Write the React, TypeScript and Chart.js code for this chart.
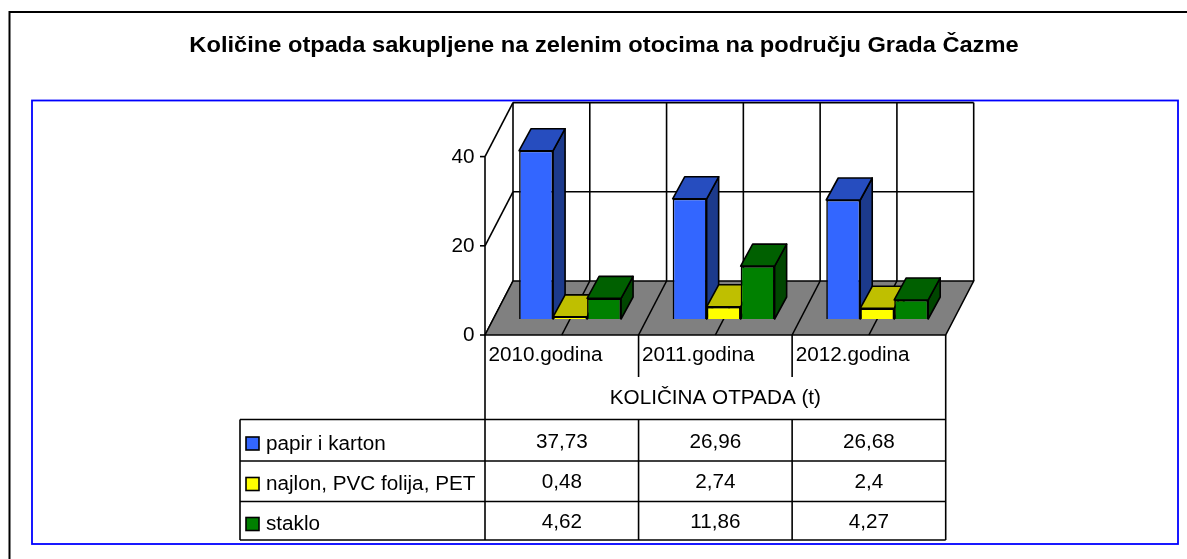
import React, { useEffect, useRef } from "react";
import { Chart, registerables } from "chart.js";

Chart.register(...registerables);

const title = "Količine otpada sakupljene na zelenim otocima na području Grada Čazme";
const categories = ["2010.godina", "2011.godina", "2012.godina"];
const tableHeader = "KOLIČINA OTPADA (t)";
const seriesNames = ["papir i karton", "najlon, PVC folija, PET", "staklo"];
const papir = [37.73, 26.96, 26.68];
const najlon = [0.48, 2.74, 2.4];
const staklo = [4.62, 11.86, 4.27];
const yTicks = [0, 20, 40];

const seriesValues = [papir, najlon, staklo];
const frontColors = ["#3366FF", "#FFFF00", "#008000"];
const topColors = ["#264DBF", "#BFBF00", "#006000"];
const sideColors = ["#1C3A8C", "#8C8C00", "#004600"];

const FONT = '"Liberation Sans", Arial, sans-serif';
const STRETCH = 1.035;
const TEXT_SIZE = 20;
const LINE = 1.6;

function text(
  ctx: CanvasRenderingContext2D,
  s: string,
  x: number,
  y: number,
  size: number,
  align: CanvasTextAlign = "left",
  bold = false,
  sx = STRETCH
) {
  ctx.save();
  ctx.font = `${bold ? "bold " : ""}${size}px ${FONT}`;
  ctx.fillStyle = "#000";
  ctx.textAlign = align;
  ctx.textBaseline = "alphabetic";
  ctx.translate(x, y);
  ctx.scale(sx, 1);
  ctx.fillText(s, 0, 0);
  ctx.restore();
}

function line(ctx: CanvasRenderingContext2D, x1: number, y1: number, x2: number, y2: number) {
  ctx.beginPath();
  ctx.moveTo(x1, y1);
  ctx.lineTo(x2, y2);
  ctx.stroke();
}

function poly(ctx: CanvasRenderingContext2D, pts: number[][], fill: string) {
  ctx.beginPath();
  pts.forEach((p, i) => (i ? ctx.lineTo(p[0], p[1]) : ctx.moveTo(p[0], p[1])));
  ctx.closePath();
  ctx.fillStyle = fill;
  ctx.fill();
  ctx.stroke();
}

const scene3d = {
  id: "scene3d",
  beforeDraw(chart: any) {
    const ctx: CanvasRenderingContext2D = chart.ctx;
    ctx.save();
    ctx.fillStyle = "#fff";
    ctx.fillRect(0, 0, chart.width, chart.height);

    // outer frame
    ctx.strokeStyle = "#000";
    ctx.lineWidth = 2;
    ctx.beginPath();
    ctx.moveTo(1187, 12);
    ctx.lineTo(9.5, 12);
    ctx.lineTo(9.5, 559);
    ctx.lineJoin = "miter";
    ctx.stroke();
    // plot frame
    ctx.strokeStyle = "#0000FF";
    ctx.lineWidth = 1.8;
    ctx.strokeRect(32, 100.5, 1146, 443.5);

    text(ctx, title, 604, 52, 22, "center", true, 1.075);
    ctx.restore();
  },
  beforeDatasetsDraw(chart: any) {
    const ctx: CanvasRenderingContext2D = chart.ctx;
    const xs = chart.scales.x;
    const ys = chart.scales.y;
    // front of the floor lies in front of the bar plane, its back behind it
    const frontDx = -8.3, frontDy = 16;
    const backDx = 19.7, backDy = -38;
    const step = (xs.right - xs.left) / 6;
    const y0 = ys.getPixelForValue(0);
    const topV = yTicks[yTicks.length - 1];

    ctx.save();
    ctx.strokeStyle = "#000";
    ctx.lineWidth = LINE;
    ctx.lineJoin = "round";

    // walls
    for (let i = 0; i <= 6; i++) {
      const x = xs.left + i * step + backDx;
      line(ctx, x, y0 + backDy, x, ys.getPixelForValue(topV) + backDy);
    }
    yTicks.forEach((t) => {
      const p = ys.getPixelForValue(t);
      line(ctx, xs.left + frontDx, p + frontDy, xs.left + backDx, p + backDy);
      if (t > 0) line(ctx, xs.left + backDx, p + backDy, xs.right + backDx, p + backDy);
      line(ctx, xs.left + frontDx - 5, p + frontDy, xs.left + frontDx, p + frontDy);
      text(ctx, String(t), 474.5, p + frontDy + 6.2, TEXT_SIZE, "right");
    });
    line(ctx, xs.left + frontDx, ys.getPixelForValue(topV) + frontDy, xs.left + frontDx, y0 + frontDy);

    // floor
    poly(
      ctx,
      [
        [xs.left + frontDx, y0 + frontDy],
        [xs.right + frontDx, y0 + frontDy],
        [xs.right + backDx, y0 + backDy],
        [xs.left + backDx, y0 + backDy],
      ],
      "#808080"
    );
    for (let i = 1; i < 6; i++) {
      const x = xs.left + i * step;
      line(ctx, x + frontDx, y0 + frontDy, x + backDx, y0 + backDy);
    }

    // bars, painted left to right
    const bdx = 12, bdy = 22;
    categories.forEach((_, c) => {
      seriesValues.forEach((_s, d) => {
        const el = chart.getDatasetMeta(d).data[c];
        const { x, y, base, width } = el.getProps(["x", "y", "base", "width"], true);
        const r = x + width / 2, l = x - width / 2;
        poly(ctx, [[r, y], [r + bdx, y - bdy], [r + bdx, base - bdy], [r, base]], sideColors[d]);
        poly(ctx, [[l, y], [r, y], [r + bdx, y - bdy], [l + bdx, y - bdy]], topColors[d]);
        el.draw(ctx);
      });
    });
    ctx.restore();
    return false;
  },
  afterDraw(chart: any) {
    const ctx: CanvasRenderingContext2D = chart.ctx;
    const xs = chart.scales.x;
    const ys = chart.scales.y;
    const left = xs.left - 8.3;
    const right = xs.right - 8.3;
    const colW = (right - left) / categories.length;
    const legendLeft = 240;
    const y0 = ys.getPixelForValue(0) + 16;
    const rowHead = 419.5;
    const rows = [461, 501.5, 540];

    ctx.save();
    ctx.strokeStyle = "#000";
    ctx.lineWidth = LINE;
    line(ctx, left, y0, left, rows[2]);
    line(ctx, right, y0, right, rows[2]);
    for (let i = 1; i < categories.length; i++) {
      line(ctx, left + i * colW, y0, left + i * colW, 377);
      line(ctx, left + i * colW, rowHead, left + i * colW, rows[2]);
    }
    line(ctx, legendLeft, rowHead, right, rowHead);
    rows.forEach((r) => line(ctx, legendLeft, r, right, r));
    line(ctx, legendLeft, rowHead, legendLeft, rows[2]);

    categories.forEach((c, i) => text(ctx, c, left + i * colW + 3.5, 361, TEXT_SIZE));
    text(ctx, tableHeader, (left + right) / 2, 404, TEXT_SIZE, "center");

    const swatchY = [437, 477.5, 517.5];
    const labelY = [450, 490, 530];
    const valueY = [448, 488, 528];
    seriesNames.forEach((name, d) => {
      ctx.fillStyle = frontColors[d];
      ctx.fillRect(246, swatchY[d], 13, 13);
      ctx.strokeRect(246, swatchY[d], 13, 13);
      text(ctx, name, 266, labelY[d], TEXT_SIZE);
      seriesValues[d].forEach((v, i) =>
        text(ctx, String(v).replace(".", ","), left + (i + 0.5) * colW, valueY[d], TEXT_SIZE, "center")
      );
    });
    ctx.restore();
  },
};

export default function App() {
  const ref = useRef<HTMLCanvasElement | null>(null);
  useEffect(() => {
    const chart = new Chart(ref.current as HTMLCanvasElement, {
      type: "bar",
      data: {
        labels: categories,
        datasets: seriesNames.map((name, d) => ({
          label: name,
          data: seriesValues[d],
          backgroundColor: frontColors[d],
          borderColor: "#000",
          borderWidth: LINE,
          barPercentage: 1,
          categoryPercentage: 0.664,
        })),
      },
      options: {
        responsive: false,
        animation: false,
        layout: { padding: { left: 493.3, right: 233, top: 140.6, bottom: 240 } },
        plugins: { legend: { display: false }, title: { display: false }, tooltip: { enabled: false } },
        scales: {
          x: { display: false },
          y: { display: false, min: 0, max: 40, ticks: { stepSize: 20 } },
        },
      },
      plugins: [scene3d],
    } as any);
    return () => chart.destroy();
  }, []);
  return (
    <canvas
      ref={ref}
      width={1187}
      height={559}
      style={{ position: "absolute", left: 0, top: 0, width: 1187, height: 559 }}
    />
  );
}
